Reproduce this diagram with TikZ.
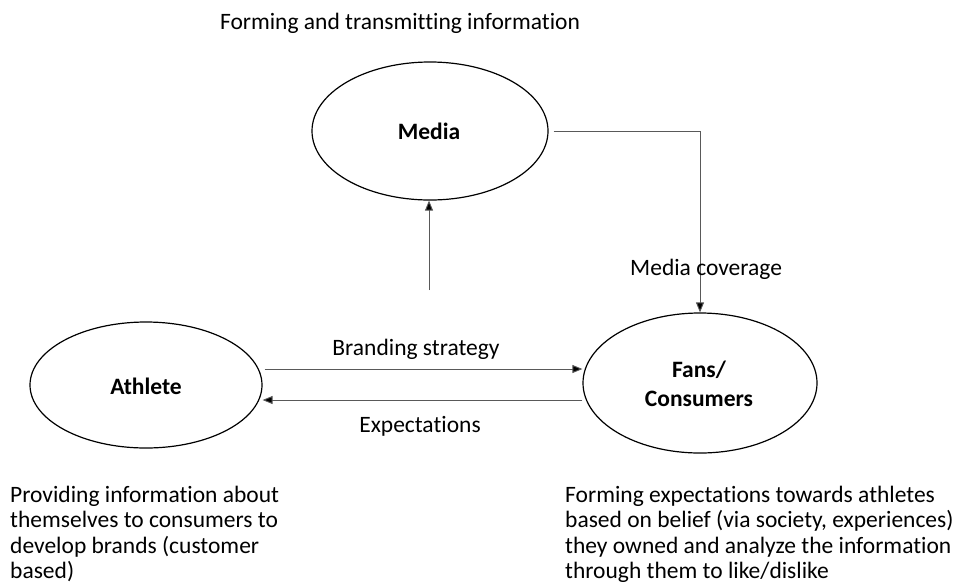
\documentclass[tikz,border=0pt]{standalone}
\usepackage{fontspec}
\setmainfont{Carlito}[Ligatures={NoCommon}]
\usetikzlibrary{shapes.geometric,arrows.meta,calc}
\begin{document}
\begin{tikzpicture}[x=1pt,y=-1pt,
  font=\fontsize{23.5}{25.3}\selectfont,
  actor/.style={ellipse,draw=black,line width=1.2pt,inner sep=0pt},
  flow/.style={draw=black!65,line width=0.9pt,-{Triangle[length=10pt,width=8pt,fill=black]}},
  lbl/.style={anchor=base,inner sep=0pt},
  bold/.style={lbl,font=\fontsize{23.5}{25.3}\selectfont\bfseries},
  note/.style={anchor=north west,inner sep=0pt,align=left}]
\useasboundingbox (0,0) rectangle (960,587);

% the three actors
\node[actor,minimum width=236pt,minimum height=138pt] (media) at (430,131) {};
\node[actor,minimum width=232pt,minimum height=126pt] (athlete) at (146,385) {};
\node[actor,minimum width=234pt,minimum height=140pt] (fans) at (700,383) {};

\node[bold] (medialbl) at (429,139) {Media};
\node[bold] (athletelbl) at (146,394) {Athlete};
\node[bold] (fanslbl) at (699,377) {Fans/};
\node[bold] (conslbl) at (699,406) {Consumers};

% connectors
\coordinate (upfoot) at (429,290);
\coordinate (covstart) at ($(media.east)+(5,0)$);
\coordinate (brandstart) at ($(athlete.east)+(2,-16)$);
\coordinate (expstart) at ($(fans.west)+(0,17)$);
\draw[flow] (upfoot) -- (upfoot |- media.south);
\draw[flow] (covstart) -| (fans.north);
\draw[flow] (brandstart) -- (brandstart -| fans.west);
\draw[flow] (expstart) -- (expstart -| athlete.east);

% connector labels
\node[lbl] (topnote) at (400,29) {Forming and transmitting information};
\node[lbl,anchor=base west] (coverage) at (630,275) {Media coverage};
\node[lbl] (branding) at (416,355) {Branding strategy};
\node[lbl] (expect) at (420,432) {Expectations};

% descriptions below the actors
\node[note] (athletenote) at (10,486) {Providing information about\\themselves to consumers to\\develop brands (customer\\based)};
\node[note] (fansnote) at (565,486) {Forming expectations towards athletes\\based on belief (via society, experiences)\\they owned and analyze the information\\through them to like/dislike};
\end{tikzpicture}
\end{document}
